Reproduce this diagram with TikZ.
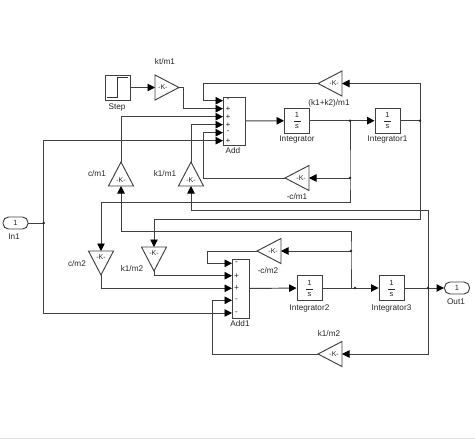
\documentclass[tikz,border=0pt]{standalone}
\usepackage{fontspec}
\setmainfont{Liberation Sans}
\usetikzlibrary{arrows.meta,shapes.geometric}
\newcommand{\oneovers}{1\\[-1.5pt]\rule[2.5pt]{7pt}{0.5pt}\\[-3.5pt]s}
\begin{document}
\begin{tikzpicture}[
        x=1pt, y=-1pt,
        every node/.style={font=\fontsize{8.2}{9}\selectfont, text=black!85},
        wire/.style={draw=black!75, line width=0.95pt},
        sig/.style={wire, -{Triangle[length=7.5pt,width=7.5pt,fill=black,color=black]}},
        block/.style={rectangle, draw=black!75, line width=0.95pt, fill=white, inner sep=0pt},
        gain/.style={isosceles triangle, isosceles triangle apex angle=53, isosceles triangle stretches,
            minimum width=25pt, minimum height=24pt, inner sep=0pt, outer sep=0pt, draw=black!75,
            line width=0.95pt, fill=white, shape border rotate=#1, font=\fontsize{7}{8}\selectfont},
        intbox/.style={block, minimum width=25pt, minimum height=25pt, align=center, font=\fontsize{7.5}{8}\selectfont},
        port/.style={rectangle, rounded corners=5.5pt, draw=black!75, line width=0.95pt, fill=white,
            minimum width=25pt, minimum height=12pt, inner sep=0pt, font=\fontsize{7.5}{8}\selectfont}
    ]
    \useasboundingbox (0,0) rectangle (475,439);
    \fill[black!12] (0,437.5) rectangle (475,439);

    % upper row
    \node[block, minimum width=25pt, minimum height=25pt] (step) at (117.5,87.5) {};
    \draw[black!80, line width=0.8pt] (107,97.5) -- (117,97.5) -- (117,77.5) -- (128,77.5);
    \node[gain=0, anchor=apex] (ktm) at (179,87.5) {-K-};
    \node[block, minimum width=22pt, minimum height=48pt] (add) at (234,121) {};
    \node[intbox] (int) at (297,120.7) {\oneovers};
    \node[intbox] (intb) at (387.5,120.7) {\oneovers};
    \node[gain=180, anchor=apex] (kkm) at (318,83.5) {-K-};
    \node[gain=180, anchor=apex] (cma) at (285,178) {-K-};
    \node[gain=90, anchor=apex] (cmb) at (121,162) {-K-};
    \node[gain=90, anchor=apex] (kma) at (191,162) {-K-};

    % lower row
    \node[port] (in) at (15.5,223) {1};
    \node[gain=-90, anchor=apex] (cmc) at (101,275) {-K-};
    \node[gain=-90, anchor=apex] (kmb) at (154,271) {-K-};
    \node[block, minimum width=17pt, minimum height=59pt] (adda) at (240.5,288.5) {};
    \node[gain=180, anchor=apex] (cmd) at (257,251) {-K-};
    \node[intbox] (intc) at (309.5,288) {\oneovers};
    \node[intbox] (intd) at (391.5,288) {\oneovers};
    \node[port] (out) at (457,288) {1};
    \node[gain=180, anchor=apex] (kmc) at (318,354) {-K-};

    % input ports and signs
    \foreach \i/\py/\sgn in {1/100.7/-,2/108.7/+,3/116.7/+,4/124.7/+,5/132.7/-,6/140.7/+} {
        \coordinate (addin\i) at (223,\py);
        \node[inner sep=0pt] (addsign\i) at (228,\py) {\sgn};
    }
    \foreach \i/\py/\sgn in {1/263.3/-,2/275.7/+,3/288.3/+,4/300.3/-,5/313/-} {
        \coordinate (addain\i) at (232,\py);
        \node[inner sep=0pt] (addasign\i) at (236.5,\py) {\sgn};
    }

    % junctions
    \coordinate (ja) at (350,120.7);
    \coordinate (jb) at (350,178);
    \coordinate (jc) at (420,120.7);
    \coordinate (jd) at (43.7,223);
    \coordinate (je) at (351,251);
    \coordinate (jf) at (355,288);
    \coordinate (jg) at (428,288);

    % bends
    \coordinate (ca) at (203,83.5);
    \coordinate (cb) at (183,87.5);
    \coordinate (cc) at (203,178);
    \coordinate (cd) at (350,202);
    \coordinate (ce) at (101,202);
    \coordinate (cf) at (351,231);
    \coordinate (cg) at (121,231);
    \coordinate (ch) at (428,210.7);
    \coordinate (ci) at (191,210.7);
    \coordinate (cj) at (420,219);
    \coordinate (ck) at (154,219);
    \coordinate (cl) at (207,251);
    \coordinate (cm) at (212,354);
    \coordinate (co) at (420,83.5);
    \coordinate (cp) at (351,288);

    % upper wires
    \draw[sig] (step) -- (ktm.lower side);
    \draw[sig] (ktm.apex) -- (cb) |- (addin2);
    \draw[sig] (kkm.apex) -- (ca) |- (addin1);
    \draw[sig] (cmb.apex) |- (addin3);
    \draw[sig] (kma.apex) |- (addin4);
    \draw[sig] (cma.apex) -- (cc) |- (addin5);
    \draw[sig] (jd) |- (addin6);
    \draw[sig] (add) -- (int);
    \draw[sig] (int) -- (intb);
    \draw[wire] (intb) -- (jc);
    \draw[sig] (jc) -- (co) -- (kkm.lower side);
    \draw[sig] (jb) -- (cma.lower side);
    \draw[wire] (ja) -- (jb) -- (cd) -- (ce);
    \draw[sig] (ce) -- (cmc.lower side);
    \draw[wire] (jc) -- (cj) -- (ck);
    \draw[sig] (ck) -- (kmb.lower side);

    % lower wires
    \draw[wire] (in) -- (jd);
    \draw[sig] (jd) |- (addain5);
    \draw[sig] (kmb.apex) |- (addain2);
    \draw[sig] (cmc.apex) |- (addain3);
    \draw[sig] (cmd.apex) -- (cl) |- (addain1);
    \draw[sig] (kmc.apex) -- (cm) |- (addain4);
    \draw[sig] (adda) -- (intc);
    \draw[sig] (intc) -- (intd);
    \draw[sig] (intd) -- (out);
    \draw[sig] (jg) |- (kmc.lower side);
    \draw[wire] (cp) -- (je) -- (cf) -- (cg);
    \draw[sig] (cg) -- (cmb.lower side);
    \draw[sig] (je) -- (cmd.lower side);
    \draw[wire] (jg) -- (ch) -- (ci);
    \draw[sig] (ci) -- (kma.lower side);

    \foreach \j in {ja,jb,jc,jd,je,jf,jg}
        \fill[black!85] (\j) circle (1.4pt);

    % labels
    \node (ltk) at (165,62) {kt/m1};
    \node (lstep) at (117,107) {Step};
    \node (ladd) at (233,151) {Add};
    \node (lkk) at (329,103) {(k1+k2)/m1};
    \node (lint) at (297,140) {Integrator};
    \node (lintb) at (387.5,140) {Integrator1};
    \node (lcma) at (297,197) {-c/m1};
    \node (lcmb) at (97,174) {c/m1};
    \node (lkma) at (165,174) {k1/m1};
    \node (lin) at (14,237) {In1};
    \node (lcmc) at (77,264) {c/m2};
    \node (lkmb) at (132,269) {k1/m2};
    \node (lcmd) at (268,271) {-c/m2};
    \node (ladda) at (240,324) {Add1};
    \node (lintc) at (309.5,308) {Integrator2};
    \node (lintd) at (391.5,308) {Integrator3};
    \node (lout) at (456,302) {Out1};
    \node (lkmc) at (329,334) {k1/m2};
\end{tikzpicture}
\end{document}
